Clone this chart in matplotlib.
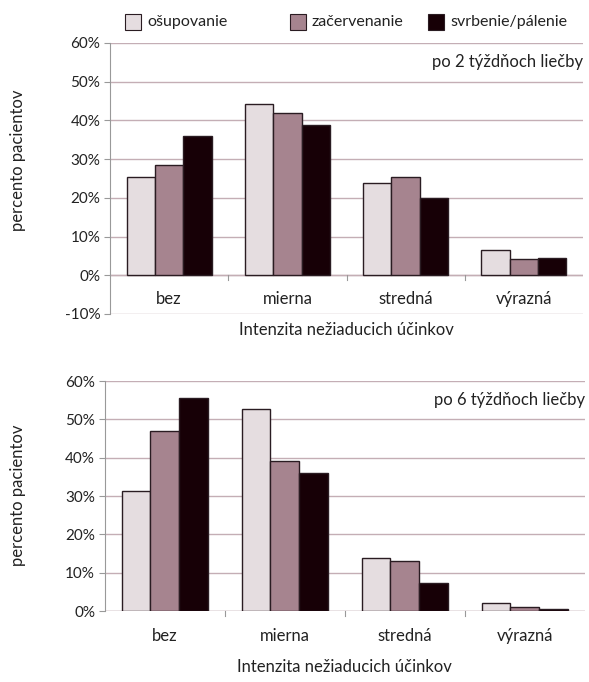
import matplotlib
matplotlib.use("Agg")
import matplotlib.pyplot as plt
import numpy as np
from matplotlib.patches import Rectangle

categories = ["bez", "mierna", "stredná", "výrazná"]
series_names = ["ošupovanie", "začervenanie", "svrbenie/pálenie"]
week2 = {
    "ošupovanie": [25.4, 44.3, 23.9, 6.4],
    "začervenanie": [28.5, 41.8, 25.5, 4.3],
    "svrbenie/pálenie": [36.0, 38.8, 20.0, 4.4],
}
week6 = {
    "ošupovanie": [31.2, 52.8, 13.7, 2.2],
    "začervenanie": [47.0, 39.2, 13.0, 1.1],
    "svrbenie/pálenie": [55.7, 36.0, 7.2, 0.5],
}
yticks_top = [-10, 0, 10, 20, 30, 40, 50, 60]
yticks_bot = [0, 10, 20, 30, 40, 50, 60]

plt.rcParams['font.family'] = ['Lato', 'DejaVu Sans']
colors = ["#e5dde0", "#a6848f", "#170006"]
edge = "#2a1c22"
grid_c = "#c4aeb5"
text_c = "#222222"
FS = 12

fig = plt.figure(figsize=(5.89, 6.82), dpi=100)
ax1 = fig.add_axes([0.1868, 0.5396, 0.803, 0.3974])
ax2 = fig.add_axes([0.178, 0.1041, 0.815, 0.3372])

x = np.arange(len(categories))
w = 0.24

def draw(ax, data, ylim, yticks, inside_labels, label):
    for i, s in enumerate(series_names):
        ax.bar(x + (i - 1) * w, data[s], width=w, color=colors[i],
               edgecolor=edge, linewidth=1.0, zorder=3)
    ax.set_xlim(-0.5, len(categories) - 0.5)
    ax.set_ylim(*ylim)
    ax.set_yticks(yticks)
    ax.set_yticklabels([f"{t}%" for t in yticks], fontsize=11, color=text_c)
    ax.yaxis.grid(True, color=grid_c, linewidth=1.0, zorder=0)
    for sp in ["top", "right", "bottom"]:
        ax.spines[sp].set_visible(False)
    ax.spines["left"].set_color("#999999")
    ax.tick_params(axis="y", length=4, color="#999999", pad=3)
    ax.set_xticks([])
    ax.axhline(0, color=grid_c, linewidth=1.0, zorder=2)
    for b in np.arange(0.5, len(categories) - 0.5, 1.0):
        ax.plot([b, b], [0, -1.2], color="#999999", linewidth=0.8,
                clip_on=False, zorder=2)
    if inside_labels:
        for xi, c in zip(x, categories):
            ax.text(xi, -6.0, c, ha="center", va="center", fontsize=FS,
                    color=text_c)
        ax.text(0.5, -0.06, "Intenzita nežiaducich účinkov",
                transform=ax.transAxes, ha="center", va="center",
                fontsize=FS, color=text_c)
    else:
        for xi, c in zip(x, categories):
            ax.text(xi, -6.6, c, ha="center", va="center", fontsize=FS,
                    color=text_c, clip_on=False)
        ax.text(0.5, -0.245, "Intenzita nežiaducich účinkov",
                transform=ax.transAxes, ha="center", va="center",
                fontsize=FS, color=text_c)
    ax.text(1.0, 55, label, ha="right", va="center", fontsize=FS,
            color=text_c, transform=ax.get_yaxis_transform())

draw(ax1, week2, (-10, 60), yticks_top, True, "po 2 týždňoch liečby")
draw(ax2, week6, (0, 60), yticks_bot, False, "po 6 týždňoch liečby")

fig.text(0.03, 1 - 160 / 682, "percento pacientov", rotation=90,
         ha="center", va="center", fontsize=FS, color=text_c)
fig.text(0.03, 1 - 495 / 682, "percento pacientov", rotation=90,
         ha="center", va="center", fontsize=FS, color=text_c)

# legend (manual layout)
leg_x = [125, 290, 428]
sq = 16
for i, name in enumerate(series_names):
    fig.patches.append(Rectangle((leg_x[i] / 589, 1 - (22 + sq / 2) / 682),
                                 sq / 589, sq / 682, facecolor=colors[i],
                                 edgecolor=edge, linewidth=0.8,
                                 transform=fig.transFigure, figure=fig))
    fig.text((leg_x[i] + sq + 6) / 589, 1 - 22 / 682, name, ha="left",
             va="center", fontsize=11.5, color=text_c)

fig.savefig("out.png", dpi=100)
